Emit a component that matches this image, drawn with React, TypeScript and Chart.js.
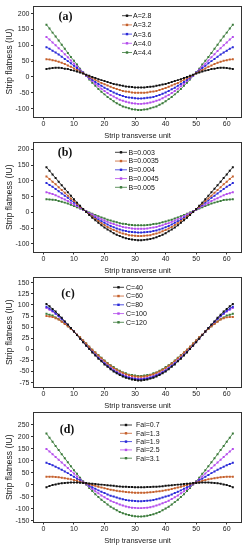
import React, { useEffect, useRef } from "react";
import { Chart, registerables } from "chart.js";
Chart.register(...registerables);

const units = [1,2,3,4,5,6,7,8,9,10,11,12,13,14,15,16,17,18,19,20,21,22,23,24,25,26,27,28,29,30,31,32,33,34,35,36,37,38,39,40,41,42,43,44,45,46,47,48,49,50,51,52,53,54,55,56,57,58,59,60,61,62];
const xTicks = [0, 10, 20, 30, 40, 50, 60];
const colors = ["#111111", "#c5602c", "#2a2ad8", "#b44cec", "#3b7b3b"];

// Panel (a)
const aNames = ["A=2.8", "A=3.2", "A=3.6", "A=4.0", "A=4.4"];
const aS1 = [25,27,28,29,29,28,26,25,22,20,17,14,11,7,4,0,-3,-7,-10,-13,-16,-19,-22,-24,-26,-28,-30,-31,-32,-33,-33,-33,-33,-32,-31,-30,-28,-26,-24,-22,-19,-16,-13,-10,-7,-3,0,4,7,11,14,17,20,22,25,26,28,29,29,28,27,25];
const aS2 = [56,55,53,51,48,45,41,36,32,27,22,17,12,6,1,-4,-9,-14,-19,-23,-27,-31,-35,-38,-41,-44,-46,-47,-49,-50,-50,-50,-50,-49,-47,-46,-44,-41,-38,-35,-31,-27,-23,-19,-14,-9,-4,1,6,12,17,22,27,32,36,41,45,48,51,53,55,56];
const aS3 = [94,89,83,77,71,64,57,50,43,35,28,20,13,5,-2,-9,-16,-22,-28,-34,-39,-44,-49,-53,-57,-60,-63,-65,-66,-67,-68,-68,-67,-66,-65,-63,-60,-57,-53,-49,-44,-39,-34,-28,-22,-16,-9,-2,5,13,20,28,35,43,50,57,64,71,77,83,89,94];
const aS4 = [126,118,109,100,91,82,72,62,52,42,33,23,14,4,-5,-13,-22,-29,-37,-44,-51,-57,-62,-67,-72,-75,-78,-81,-83,-84,-85,-85,-84,-83,-81,-78,-75,-72,-67,-62,-57,-51,-44,-37,-29,-22,-13,-5,4,14,23,33,42,52,62,72,82,91,100,109,118,126];
const aS5 = [165,153,140,128,115,102,89,76,63,51,39,26,15,3,-8,-18,-28,-38,-47,-55,-63,-70,-77,-83,-88,-93,-96,-99,-102,-103,-104,-104,-103,-102,-99,-96,-93,-88,-83,-77,-70,-63,-55,-47,-38,-28,-18,-8,3,15,26,39,51,63,76,89,102,115,128,140,153,165];
const aTicks = [-100, -50, 0, 50, 100, 150, 200];

// Panel (b)
const bNames = ["B=0.003", "B=0.0035", "B=0.004", "B=0.0045", "B=0.005"];
const bS1 = [143,132,120,109,97,86,75,64,53,42,31,21,11,1,-8,-17,-25,-33,-41,-48,-54,-60,-66,-71,-75,-79,-82,-84,-86,-87,-88,-88,-87,-86,-84,-82,-79,-75,-71,-66,-60,-54,-48,-41,-33,-25,-17,-8,1,11,21,31,42,53,64,75,86,97,109,120,132,143];
const bS2 = [114,106,97,89,80,71,62,53,44,36,27,18,10,2,-6,-13,-21,-27,-34,-40,-46,-51,-56,-60,-64,-67,-69,-72,-73,-74,-75,-75,-74,-73,-72,-69,-67,-64,-60,-56,-51,-46,-40,-34,-27,-21,-13,-6,2,10,18,27,36,44,53,62,71,80,89,97,106,114];
const bS3 = [93,87,81,74,67,60,53,46,38,31,24,16,9,3,-4,-11,-17,-23,-28,-33,-38,-43,-47,-51,-54,-57,-59,-61,-62,-63,-64,-64,-63,-62,-61,-59,-57,-54,-51,-47,-43,-38,-33,-28,-23,-17,-11,-4,3,9,16,24,31,38,46,53,60,67,74,81,87,93];
const bS4 = [64,61,58,54,50,45,41,36,30,25,20,14,9,3,-2,-7,-12,-17,-22,-26,-30,-34,-37,-41,-43,-46,-48,-49,-51,-52,-52,-52,-52,-51,-49,-48,-46,-43,-41,-37,-34,-30,-26,-22,-17,-12,-7,-2,3,9,14,20,25,30,36,41,45,50,54,58,61,64];
const bS5 = [42,41,40,39,36,34,31,28,24,20,16,12,8,4,0,-4,-8,-12,-16,-19,-23,-26,-29,-31,-34,-36,-37,-39,-40,-41,-41,-41,-41,-40,-39,-37,-36,-34,-31,-29,-26,-23,-19,-16,-12,-8,-4,0,4,8,12,16,20,24,28,31,34,36,39,40,41,42];
const bTicks = [-100, -50, 0, 50, 100, 150, 200];

// Panel (c)
const cNames = ["C=40", "C=60", "C=80", "C=100", "C=120"];
const cS1 = [102,97,91,85,78,71,63,56,48,40,32,24,16,8,1,-7,-14,-21,-27,-34,-39,-45,-50,-54,-58,-61,-64,-66,-68,-69,-70,-70,-69,-68,-66,-64,-61,-58,-54,-50,-45,-39,-34,-27,-21,-14,-7,1,8,16,24,32,40,48,56,63,71,78,85,91,97,102];
const cS2 = [75,74,73,70,67,62,57,52,46,40,33,27,20,13,6,-1,-7,-14,-20,-26,-32,-37,-42,-46,-50,-53,-56,-58,-60,-61,-62,-62,-61,-60,-58,-56,-53,-50,-46,-42,-37,-32,-26,-20,-14,-7,-1,6,13,20,27,33,40,46,52,57,62,67,70,72,73,73];
const cS3 = [96,92,87,81,75,69,62,55,48,40,32,25,17,9,2,-5,-12,-19,-26,-32,-37,-43,-48,-52,-56,-59,-62,-64,-66,-67,-68,-68,-67,-66,-64,-62,-59,-56,-52,-48,-43,-37,-32,-26,-19,-12,-5,2,9,17,25,32,40,48,55,62,69,75,81,87,92,96];
const cS4 = [93,89,85,80,74,68,61,54,47,40,33,25,18,10,3,-4,-11,-18,-24,-30,-36,-41,-46,-50,-54,-57,-60,-63,-64,-65,-66,-66,-65,-64,-63,-60,-57,-54,-50,-46,-41,-36,-30,-24,-18,-11,-4,3,10,18,25,33,40,47,54,61,68,74,80,85,89,93];
const cS5 = [80,78,76,72,68,63,58,52,46,40,33,27,20,13,6,-1,-7,-13,-19,-25,-31,-36,-40,-45,-48,-52,-54,-57,-58,-59,-60,-60,-59,-58,-57,-54,-52,-48,-45,-40,-36,-31,-25,-19,-13,-7,-1,6,13,20,27,33,40,46,52,58,63,68,72,76,78,80];
const cTicks = [-75, -50, -25, 0, 25, 50, 75, 100, 125, 150];

// Panel (d)
const dNames = ["Fai=0.7", "Fai=1.3", "Fai=1.9", "Fai=2.5", "Fai=3.1"];
const dS1 = [-10,-5,-1,2,5,7,8,9,10,10,10,9,8,8,6,5,4,2,1,0,-2,-3,-4,-6,-7,-8,-8,-9,-9,-10,-10,-10,-10,-9,-9,-8,-8,-7,-6,-4,-3,-2,0,1,2,4,5,6,8,8,9,10,10,10,9,8,7,5,2,-1,-5,-10];
const dS2 = [34,34,34,33,32,30,28,26,23,20,17,13,10,6,3,-1,-4,-8,-11,-14,-17,-20,-22,-25,-27,-28,-30,-31,-32,-33,-33,-33,-33,-32,-31,-30,-28,-27,-25,-22,-20,-17,-14,-11,-8,-4,-1,3,6,10,13,17,20,23,26,28,30,32,33,34,34,34];
const dS3 = [92,87,82,76,69,63,56,49,41,34,26,19,12,4,-3,-10,-16,-23,-29,-34,-40,-45,-49,-53,-57,-60,-63,-65,-66,-67,-68,-68,-67,-66,-65,-63,-60,-57,-53,-49,-45,-40,-34,-29,-23,-16,-10,-3,4,12,19,26,34,41,49,56,63,69,76,82,87,92];
const dS4 = [150,139,128,116,105,93,82,70,58,47,35,24,13,3,-7,-17,-27,-35,-44,-52,-59,-66,-72,-77,-82,-86,-90,-93,-95,-96,-97,-97,-96,-95,-93,-90,-86,-82,-77,-72,-66,-59,-52,-44,-35,-27,-17,-7,3,13,24,35,47,58,70,82,93,105,116,128,139,150];
const dS5 = [214,197,180,162,145,128,111,94,78,61,46,30,15,1,-13,-26,-39,-51,-62,-72,-82,-91,-99,-106,-113,-118,-123,-126,-129,-131,-132,-132,-131,-129,-126,-123,-118,-113,-106,-99,-91,-82,-72,-62,-51,-39,-26,-13,1,15,30,46,61,78,94,111,128,145,162,180,197,214];
const dTicks = [-150, -100, -50, 0, 50, 100, 150, 200, 250];

const FONT = "'Liberation Sans', Arial, sans-serif";
const CANVAS_W = 249;
const CANVAS_H = 145;
const AREA_LEFT = 33;
const AREA_RIGHT = 242;
const AREA_BOTTOM = 117.5;

type PanelCfg = {
  tag: string;
  names: string[];
  series: number[][];
  yTicks: number[];
  yMin: number;
  yMax: number;
  padTop: number;
  tagX: number;
  tagY: number;
  legX: number;
  legLen: number;
  legTextX: number;
  legY: number;
  legGap: number;
};

const panels: PanelCfg[] = [
  { tag: "(a)", names: aNames, series: [aS1, aS2, aS3, aS4, aS5], yTicks: aTicks, yMin: -128, yMax: 225, padTop: 5.5,
    tagX: 32.5, tagY: 11.5, legX: 89, legLen: 10, legTextX: 100, legY: 10, legGap: 9.2 },
  { tag: "(b)", names: bNames, series: [bS1, bS2, bS3, bS4, bS5], yTicks: bTicks, yMin: -127, yMax: 223, padTop: 7,
    tagX: 32, tagY: 11.3, legX: 82, legLen: 12, legTextX: 95.5, legY: 10.3, legGap: 8.75 },
  { tag: "(c)", names: cNames, series: [cS1, cS2, cS3, cS4, cS5], yTicks: cTicks, yMin: -86, yMax: 163, padTop: 7,
    tagX: 35, tagY: 17.3, legX: 80, legLen: 11, legTextX: 93, legY: 10.3, legGap: 8.75 },
  { tag: "(d)", names: dNames, series: [dS1, dS2, dS3, dS4, dS5], yTicks: dTicks, yMin: -157, yMax: 304, padTop: 7,
    tagX: 34, tagY: 18, legX: 87, legLen: 12, legTextX: 103, legY: 13, legGap: 8.3 },
];

const decorPlugin = {
  id: "decor",
  afterDraw(chart: any, _args: any, opts: any) {
    const { ctx, chartArea: ca } = chart;
    ctx.save();
    // frame
    ctx.strokeStyle = "#333";
    ctx.lineWidth = 1;
    ctx.strokeRect(Math.round(ca.left) + 0.5, Math.round(ca.top) + 0.5, Math.round(ca.right - ca.left) - 1, Math.round(ca.bottom - ca.top) - 1);
    // panel tag
    ctx.fillStyle = "#111";
    ctx.font = "bold 12px 'Liberation Serif', 'Times New Roman', serif";
    ctx.textAlign = "center";
    ctx.textBaseline = "middle";
    ctx.fillText(opts.tag, ca.left + opts.tagX, ca.top + opts.tagY);
    // legend
    ctx.font = "7px " + FONT;
    ctx.textAlign = "left";
    chart.data.datasets.forEach((ds: any, i: number) => {
      const y = ca.top + opts.legY + i * opts.legGap;
      const x0 = ca.left + opts.legX;
      ctx.strokeStyle = ds.borderColor;
      ctx.lineWidth = 0.8;
      ctx.beginPath();
      ctx.moveTo(x0, y);
      ctx.lineTo(x0 + opts.legLen, y);
      ctx.stroke();
      ctx.fillStyle = ds.borderColor;
      ctx.fillRect(x0 + opts.legLen / 2 - 1.2, y - 1.2, 2.4, 2.4);
      ctx.fillStyle = "#111";
      ctx.fillText(ds.label, ca.left + opts.legTextX, y + 0.5);
    });
    ctx.restore();
  },
};

function Panel({ cfg, top }: { cfg: PanelCfg; top: number }) {
  const ref = useRef<HTMLCanvasElement>(null);
  useEffect(() => {
    const chart = new Chart(ref.current as HTMLCanvasElement, {
      type: "line",
      data: {
        datasets: cfg.series.map((vals, i) => ({
          label: cfg.names[i],
          data: units.map((u, k) => ({ x: u, y: vals[k] })),
          borderColor: colors[i],
          backgroundColor: colors[i],
          borderWidth: 0.8,
          pointRadius: 1.4,
          pointStyle: "rect",
          pointBorderWidth: 0,
          tension: 0,
        })),
      },
      options: {
        animation: false,
        responsive: false,
        events: [],
        layout: { padding: { left: 0, right: CANVAS_W - AREA_RIGHT, top: cfg.padTop, bottom: 0 } },
        plugins: {
          legend: { display: false },
          tooltip: { enabled: false },
          decor: cfg,
        } as any,
        scales: {
          x: {
            type: "linear",
            min: -3.4,
            max: 65,
            afterBuildTicks: (s: any) => {
              s.ticks = xTicks.map((v) => ({ value: v }));
            },
            afterFit: (s: any) => {
              s.height = CANVAS_H - AREA_BOTTOM;
            },
            grid: { drawOnChartArea: false, tickLength: 2, color: "#333" },
            border: { display: false },
            ticks: { font: { family: FONT, size: 7 }, color: "#222", padding: 0, maxRotation: 0, autoSkip: false },
            title: { display: true, text: "Strip transverse unit", font: { family: FONT, size: 7.5 }, color: "#222", padding: { top: 0, bottom: 4.5 } },
          },
          y: {
            type: "linear",
            min: cfg.yMin,
            max: cfg.yMax,
            afterBuildTicks: (s: any) => {
              s.ticks = cfg.yTicks.map((v) => ({ value: v }));
            },
            afterFit: (s: any) => {
              s.width = AREA_LEFT;
            },
            grid: { drawOnChartArea: false, tickLength: 2, color: "#333" },
            border: { display: false },
            ticks: { font: { family: FONT, size: 7 }, color: "#222", padding: 1.5, autoSkip: false },
            title: { display: true, text: "Strip flatness (IU)", font: { family: FONT, size: 8.5 }, color: "#222", padding: { top: 5, bottom: 0 } },
          },
        },
      } as any,
      plugins: [decorPlugin],
    });
    return () => chart.destroy();
  }, []);
  return (
    <canvas
      ref={ref}
      width={CANVAS_W}
      height={CANVAS_H}
      style={{ position: "absolute", left: 0, top, width: CANVAS_W, height: CANVAS_H }}
    />
  );
}

export default function App() {
  const tops = [0, 135, 270, 405];
  return (
    <div style={{ position: "fixed", left: 0, top: 0, width: 249, height: 550, background: "#fff", overflow: "hidden" }}>
      {panels.map((p, i) => (
        <Panel key={p.tag} cfg={p} top={tops[i]} />
      ))}
    </div>
  );
}
